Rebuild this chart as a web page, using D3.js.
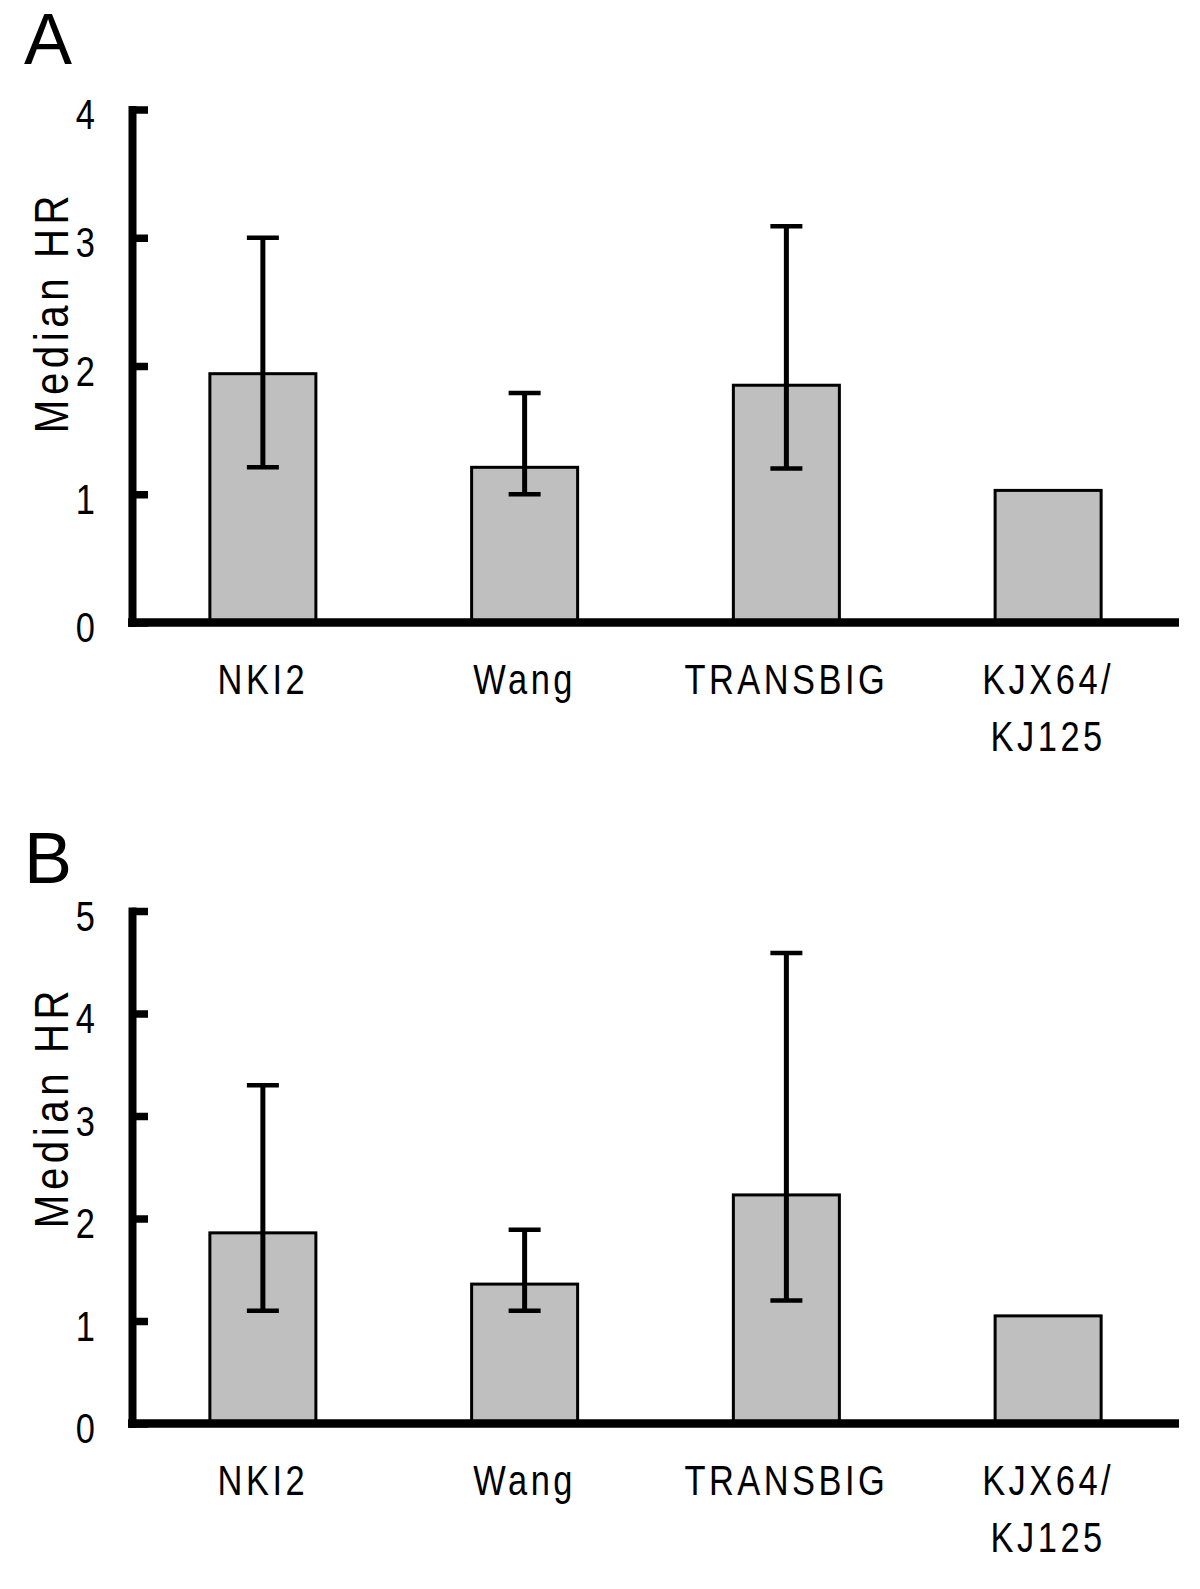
<!DOCTYPE html>
<style>
  body { margin: 0; background: #fff; }
  svg { display: block; font-family: 'Liberation Sans', Arial, sans-serif; }
</style>
<svg width="1200" height="1589"></svg>
<script src="https://d3js.org/d3.v7.min.js"></script>
<script>
  // categories shared by both panels
  var categories = ["NKI2", "Wang", "TRANSBIG", "KJX64/KJ125"];

  // panel A
  var medianA = [1.94, 1.21, 1.85, 1.03];
  var lowerA = [1.21, 1.0, 1.2, null];
  var upperA = [3.0, 1.79, 3.09, null];
  var ticksA = [0, 1, 2, 3, 4];

  // panel B
  var medianB = [1.86, 1.36, 2.23, 1.05];
  var lowerB = [1.1, 1.1, 1.2, null];
  var upperB = [3.3, 1.89, 4.59, null];
  var ticksB = [0, 1, 2, 3, 4, 5];

  var NARROW = 0.82; // squeeze Liberation Sans to look like Arial Narrow

  var svg = d3.select("svg");
  svg.append("rect").attr("width", 1200).attr("height", 1589).attr("fill", "#fff");

  var x = d3.scaleBand()
    .domain(categories)
    .range([132, 1179])
    .paddingInner(0.595)
    .paddingOuter(0.2975);

  function panel(letter, letterY, top, bottom, titleY, median, lower, upper, ticks) {
    var g = svg.append("g");
    var y = d3.scaleLinear()
      .domain([0, d3.max(ticks)])
      .range([bottom, top]);

    // panel letter
    g.append("text")
      .attr("x", 24)
      .attr("y", letterY)
      .attr("font-size", 72)
      .text(letter);

    // bars
    g.selectAll("rect.bar")
      .data(median)
      .enter().append("rect")
      .attr("class", "bar")
      .attr("x", function(d, i) { return x(categories[i]); })
      .attr("width", x.bandwidth())
      .attr("y", function(d) { return y(d); })
      .attr("height", function(d) { return y(0) - y(d); })
      .attr("fill", "#bfbfbf")
      .attr("stroke", "#000")
      .attr("stroke-width", 3);

    // error bars
    var err = median.map(function(d, i) { return {c: categories[i], lo: lower[i], hi: upper[i]}; })
      .filter(function(d) { return d.lo != null; });
    var eg = g.selectAll("g.err").data(err).enter().append("g").attr("class", "err")
      .attr("stroke", "#000");
    eg.append("line")
      .attr("x1", function(d) { return x(d.c) + x.bandwidth() / 2; })
      .attr("x2", function(d) { return x(d.c) + x.bandwidth() / 2; })
      .attr("y1", function(d) { return y(d.lo); })
      .attr("y2", function(d) { return y(d.hi); })
      .attr("stroke-width", 5);
    ["lo", "hi"].forEach(function(k) {
      eg.append("line")
        .attr("x1", function(d) { return x(d.c) + x.bandwidth() / 2 - 16; })
        .attr("x2", function(d) { return x(d.c) + x.bandwidth() / 2 + 16; })
        .attr("y1", function(d) { return y(d[k]); })
        .attr("y2", function(d) { return y(d[k]); })
        .attr("stroke-width", 4.5);
    });

    // y axis
    var ax = g.append("g")
      .attr("transform", "translate(132,0)")
      .call(d3.axisLeft(y).tickValues(ticks).tickFormat(d3.format("d"))
        .tickSizeInner(-16).tickSizeOuter(0).tickPadding(37));
    ax.select(".domain").attr("stroke-width", 8).attr("stroke-linecap", "square");
    ax.selectAll(".tick line").attr("stroke-width", 7.5);
    ax.selectAll(".tick text")
      .attr("font-size", 42)
      .attr("font-family", null)
      .attr("fill", "#000")
      .attr("x", -37 / NARROW)
      .attr("dy", 0)
      .attr("y", 19)
      .attr("transform", "scale(" + NARROW + ",1)");

    // x baseline
    g.append("line")
      .attr("x1", 128).attr("x2", 1179)
      .attr("y1", y(0)).attr("y2", y(0))
      .attr("stroke", "#000").attr("stroke-width", 8.5);

    // category labels
    g.selectAll("text.cat")
      .data(categories)
      .enter().append("text")
      .attr("class", "cat")
      .attr("text-anchor", "middle")
      .attr("font-size", 42)
      .attr("letter-spacing", (3.5 / NARROW) + "px")
      .attr("transform", function(d) {
        return "translate(" + (x(d) + x.bandwidth() / 2) + "," + (y(0) + 71) + ") scale(" + NARROW + ",1)";
      })
      .each(function(d) {
        var parts = d.split("/");
        var t = d3.select(this);
        if (parts.length > 1) {
          t.append("tspan").attr("x", 0).text(parts[0] + "/");
          t.append("tspan").attr("x", 0).attr("dy", 58).text(parts[1]);
        } else {
          t.text(d);
        }
      });

    // y title
    g.append("text")
      .attr("transform", "translate(68," + titleY + ") rotate(-90) scale(" + NARROW + ",1)")
      .attr("text-anchor", "middle")
      .attr("font-size", 49)
      .attr("letter-spacing", (4.6 / NARROW) + "px")
      .text("Median HR");
  }

  panel("A", 64, 109.5, 622.5, 312, medianA, lowerA, upperA, ticksA);
  panel("B", 883, 911, 1423.5, 1107, medianB, lowerB, upperB, ticksB);
</script>
